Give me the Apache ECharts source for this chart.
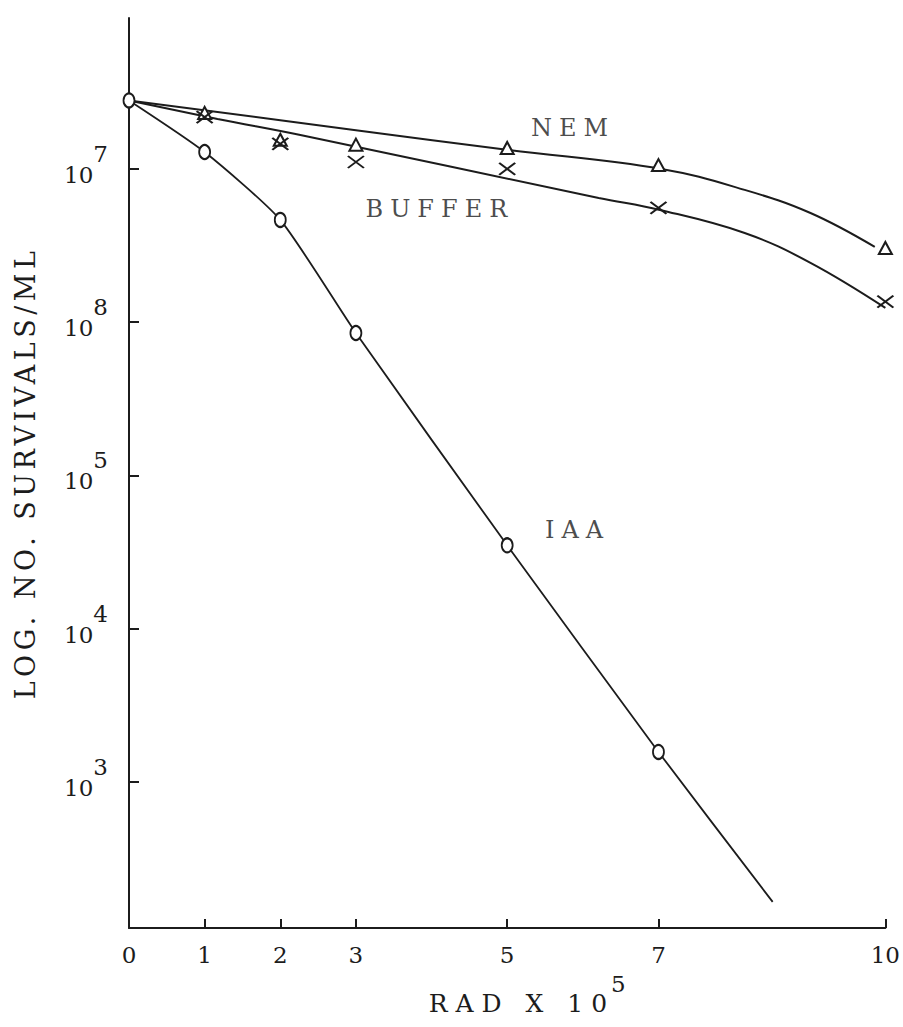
<!DOCTYPE html>
<html>
<head>
<meta charset="utf-8">
<script src="https://cdn.jsdelivr.net/npm/echarts@6/dist/echarts.min.js"></script>
<style>
html, body { margin: 0; padding: 0; background: #ffffff; }
#chart { width: 903px; height: 1027px; }
/* typewriter-like wide letter spacing of the original lettering */
#chart text[style*="24px"] { letter-spacing: 7px; }
#chart text[style*="25px"] { letter-spacing: 8px; }
#chart text[style*="27px"] { letter-spacing: 4.5px; }
</style>
</head>
<body>
<div id="chart"></div>
<script>
// ---- data (dose in RAD x 10^5, survivors per ml) ----
const iaaDose = [0, 1, 2, 3, 5, 7];
const iaaSurvivors = [2.8e7, 1.29e7, 4.65e6, 8.5e5, 3.5e4, 1.57e3];
const iaaCurveDose = [0, 1, 2, 3, 5, 7, 8.51];
const iaaCurveSurvivors = [2.8e7, 1.29e7, 4.65e6, 8.5e5, 3.5e4, 1.57e3, 165];

const nemDose = [1, 2, 3, 5, 7, 10];
const nemSurvivors = [2.32e7, 1.55e7, 1.44e7, 1.37e7, 1.06e7, 3.05e6];
const nemCurveDose = [0, 3, 5.02, 7.04, 8.14, 9.01, 9.86];
const nemCurveSurvivors = [2.8e7, 1.79e7, 1.33e7, 1.0e7, 7.3e6, 5.16e6, 3.1e6];

const bufferDose = [1, 2, 3, 5, 7, 10];
const bufferSurvivors = [2.18e7, 1.46e7, 1.11e7, 1.0e7, 5.57e6, 1.36e6];
const bufferCurveDose = [0, 1.17, 2.25, 6.21, 7.02, 8.14, 9.01, 10];
const bufferCurveSurvivors = [2.8e7, 2.12e7, 1.67e7, 6.47e6, 5.4e6, 3.82e6, 2.44e6, 1.24e6];

const curveNames = ['NEM', 'BUFFER', 'IAA'];
const curveNameDose = [5.87, 4.11, 5.93];
const curveNameSurvivors = [1.85e7, 5.48e6, 4.4e4];

const xTickLabels = [0, 1, 2, 3, 5, 7, 10];
const xTickMarks = [1, 2, 3, 5, 7, 10];
const yTickDecades = [3, 4, 5, 6, 7];
const yTickPrintedExponents = ['3', '4', '5', '8', '7']; // as printed on the original

// ---- helpers ----
const lg = v => Math.log10(v);
const pairs = (xs, ys) => xs.map((x, i) => [x, lg(ys[i])]);

const INK = '#1c1c1c';
const FONT = 'DejaVu Serif';

const chart = echarts.init(document.getElementById('chart'), null, { renderer: 'svg' });

chart.setOption({
  backgroundColor: '#ffffff',
  animation: false,
  grid: { left: 129, right: 15, top: 18, bottom: 99 },
  xAxis: {
    type: 'value',
    min: 0,
    max: 10,
    name: '{b|RAD X 10}{s|5}',
    nameLocation: 'middle',
    nameGap: 44,
    nameTextStyle: {
      padding: [0, 0, 0, 72],
      rich: {
        b: { fontFamily: FONT, fontSize: 25, color: INK, lineHeight: 44, verticalAlign: 'bottom' },
        s: { fontFamily: FONT, fontSize: 23, color: INK, verticalAlign: 'top', padding: [0, 0, 0, 28] }
      }
    },
    axisLine: { show: true, lineStyle: { color: INK, width: 2 } },
    axisTick: { show: true, inside: true, length: 9, customValues: xTickMarks, lineStyle: { color: INK, width: 2 } },
    axisLabel: {
      customValues: xTickLabels,
      margin: 15,
      fontFamily: FONT,
      fontSize: 23,
      color: INK,
      formatter: v => String(v)
    },
    splitLine: { show: false }
  },
  yAxis: {
    type: 'value',
    min: 2.047,
    max: 7.985,
    name: 'LOG. NO. SURVIVALS/ML',
    nameLocation: 'middle',
    nameGap: 90,
    nameTextStyle: { fontFamily: FONT, fontSize: 27, color: INK },
    axisLine: { show: true, lineStyle: { color: INK, width: 2 } },
    axisTick: { show: true, inside: true, length: 10, customValues: yTickDecades, lineStyle: { color: INK, width: 2 } },
    axisLabel: {
      customValues: yTickDecades,
      margin: 21,
      padding: [0, 0, 9, 0],
      formatter: v => {
        const i = yTickDecades.indexOf(Math.round(v));
        return i < 0 ? '' : '{b|10}{s|' + yTickPrintedExponents[i] + '}';
      },
      rich: {
        b: { fontFamily: FONT, fontSize: 23, color: INK, lineHeight: 44, verticalAlign: 'bottom' },
        s: { fontFamily: FONT, fontSize: 23, color: INK, verticalAlign: 'top' }
      }
    },
    splitLine: { show: false }
  },
  series: [
    {
      name: 'IAA curve', type: 'line', data: pairs(iaaCurveDose, iaaCurveSurvivors),
      smooth: 0.2, showSymbol: false, lineStyle: { color: INK, width: 1.8 }, z: 2
    },
    {
      name: 'NEM curve', type: 'line', data: pairs(nemCurveDose, nemCurveSurvivors),
      smooth: 0.4, showSymbol: false, lineStyle: { color: INK, width: 2 }, z: 2
    },
    {
      name: 'BUFFER curve', type: 'line', data: pairs(bufferCurveDose, bufferCurveSurvivors),
      smooth: 0.4, showSymbol: false, lineStyle: { color: INK, width: 2 }, z: 2
    },
    {
      name: 'IAA', type: 'scatter', data: pairs(iaaDose, iaaSurvivors),
      symbol: 'circle', symbolSize: [11, 14],
      itemStyle: { color: '#ffffff', borderColor: INK, borderWidth: 2, opacity: 1 }, z: 5
    },
    {
      name: 'NEM', type: 'scatter', data: pairs(nemDose, nemSurvivors),
      symbol: 'triangle', symbolSize: [13, 12],
      itemStyle: { color: '#ffffff', borderColor: INK, borderWidth: 2, opacity: 1 }, z: 5
    },
    {
      name: 'BUFFER', type: 'scatter', data: pairs(bufferDose, bufferSurvivors),
      symbol: 'path://M0,0L16,12M16,0L0,12', symbolSize: [16, 12],
      itemStyle: { color: 'transparent', borderColor: INK, borderWidth: 2, opacity: 1 }, z: 6
    },
    {
      name: 'curve names', type: 'scatter',
      data: curveNames.map((n, i) => ({ name: n, value: [curveNameDose[i], lg(curveNameSurvivors[i])] })),
      symbolSize: 1, itemStyle: { color: 'transparent' },
      label: { show: true, position: 'inside', formatter: p => p.name, fontFamily: FONT, fontSize: 24, color: INK },
      silent: true, z: 7
    }
  ]
});
</script>
</body>
</html>
